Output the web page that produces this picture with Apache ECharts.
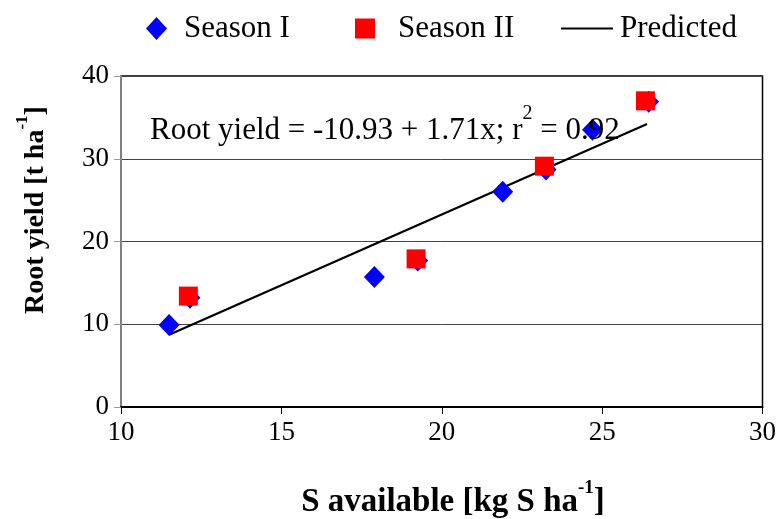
<!DOCTYPE html>
<html><head><meta charset="utf-8">
<script src="https://cdn.jsdelivr.net/npm/echarts@6/dist/echarts.min.js"></script>
<style>html,body{margin:0;padding:0;background:#fff}#c{width:779px;height:519px}</style>
</head><body><div id="c"></div>
<script>
const seasonI = [[11.5, 9.9], [12.15, 13.2], [17.9, 15.7], [19.25, 17.7], [21.9, 26.0], [23.25, 28.7], [24.7, 33.5], [26.45, 36.9]];
const seasonII = [[12.1, 13.4], [19.2, 17.9], [23.2, 29.1], [26.35, 37.0]];
const predicted = [[11.5, 8.74], [26.4, 34.21]];
const xTicks = [10, 15, 20, 25, 30];
const yTicks = [0, 10, 20, 30, 40];
const equation = ['Root yield = -10.93 + 1.71x; r', '2', ' = 0.92'];

const F = 'Liberation Serif, Times New Roman, serif';
const chart = echarts.init(document.getElementById('c'));
chart.setOption({
  animation: false,
  backgroundColor: '#fff',
  grid: { left: 121, right: 14, top: 76, bottom: 112, show: true, borderColor: '#000', borderWidth: 1.5, backgroundColor: 'transparent' },
  legend: [
    { data: [{ name: 'Season I', icon: 'diamond' }], left: 141, top: 8, itemWidth: 21, itemHeight: 23, textStyle: { fontFamily: F, fontSize: 31, color: '#000', padding: [0, 0, 0, 12] } },
    { data: [{ name: 'Season II', icon: 'rect' }], left: 350, top: 8, itemWidth: 20, itemHeight: 20, textStyle: { fontFamily: F, fontSize: 31, color: '#000', padding: [0, 0, 0, 18] } },
    { data: [{ name: 'Predicted', icon: 'rect' }], left: 556, top: 8, itemWidth: 52, itemHeight: 2, itemStyle: { color: '#000' }, textStyle: { fontFamily: F, fontSize: 31, color: '#000', padding: [0, 0, 0, 2] } }
  ],
  xAxis: {
    type: 'value', min: xTicks[0], max: xTicks[xTicks.length - 1], interval: 5,
    axisLine: { lineStyle: { color: '#000', width: 2 } },
    axisTick: { show: true, inside: false, length: 7, lineStyle: { color: '#000', width: 1 } },
    splitLine: { show: false },
    axisLabel: { fontFamily: F, fontSize: 27, color: '#000', margin: 12 }
  },
  yAxis: {
    type: 'value', min: yTicks[0], max: yTicks[yTicks.length - 1], interval: 10,
    axisLine: { show: true, lineStyle: { color: '#808080', width: 2 } },
    axisTick: { show: true, inside: false, length: 7, lineStyle: { color: '#999', width: 1 } },
    splitLine: { show: true, lineStyle: { color: '#444', width: 1 } },
    axisLabel: { fontFamily: F, fontSize: 27, color: '#000', margin: 12 }
  },
  series: [
    { name: 'Predicted', type: 'line', data: predicted, symbol: 'none', lineStyle: { color: '#000', width: 2.2 }, itemStyle: { color: '#000' }, z: 1 },
    { name: 'Season I', type: 'scatter', data: seasonI, symbol: 'diamond', symbolSize: [21, 22], itemStyle: { color: '#0000FF', opacity: 1 }, z: 3 },
    { name: 'Season II', type: 'scatter', data: seasonII, symbol: 'rect', symbolSize: 19, itemStyle: { color: '#FF0000', opacity: 1 }, z: 4 }
  ],
  graphic: [
    {
      type: 'text', left: 150, top: 104, z: 10,
      style: {
        text: '{a|' + equation[0] + '}{s|' + equation[1] + '}{a|' + equation[2] + '}',
        rich: {
          a: { fontFamily: F, fontSize: 31, fill: '#000', verticalAlign: 'bottom', lineHeight: 42 },
          s: { fontFamily: F, fontSize: 20, fill: '#000', verticalAlign: 'top', lineHeight: 42 }
        }
      }
    },
    {
      type: 'text', x: 453, y: 499, z: 10,
      style: {
        text: '{a|S available [kg S ha}{s|-1}{a|]}', align: 'center', verticalAlign: 'middle',
        rich: {
          a: { fontFamily: F, fontSize: 33, fontWeight: 'bold', fill: '#000', verticalAlign: 'bottom', lineHeight: 40 },
          s: { fontFamily: F, fontSize: 19, fontWeight: 'bold', fill: '#000', verticalAlign: 'top', lineHeight: 40 }
        }
      }
    },
    {
      type: 'text', x: 32, y: 210, rotation: Math.PI / 2, z: 10,
      style: {
        text: '{a|Root yield [t ha}{s|-1}{a|]}', align: 'center', verticalAlign: 'middle',
        rich: {
          a: { fontFamily: F, fontSize: 28, fontWeight: 'bold', fill: '#000', verticalAlign: 'bottom', lineHeight: 36 },
          s: { fontFamily: F, fontSize: 17, fontWeight: 'bold', fill: '#000', verticalAlign: 'top', lineHeight: 36 }
        }
      }
    }
  ]
});
</script></body></html>
